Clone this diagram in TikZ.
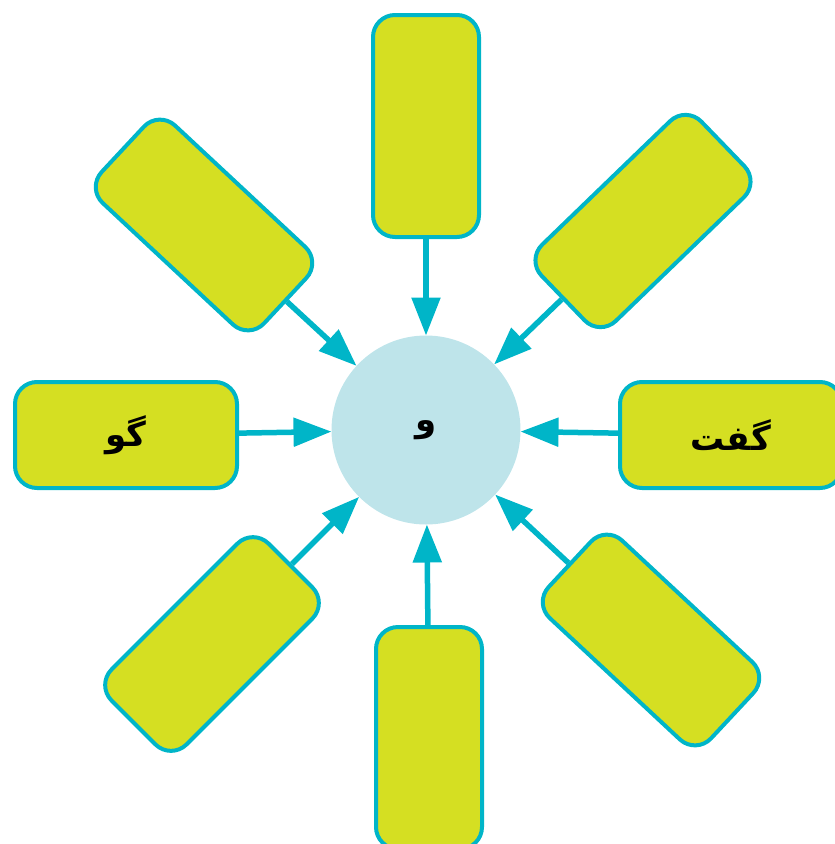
\documentclass[tikz,border=0pt]{standalone}
\usepackage{fontspec}
\newfontfamily\farsi[Script=Arabic]{DejaVu Sans}
\TeXXeTstate=1
\usetikzlibrary{arrows.meta}
\definecolor{boxfill}{HTML}{D5DF22}
\definecolor{boxline}{HTML}{00B5C8}
\definecolor{hubfill}{HTML}{BEE4EA}
\tikzset{
    word/.style={box, font=\farsi\bfseries\fontsize{34}{40}\selectfont},
    box/.style={draw=boxline, fill=boxfill, line width=4pt, rounded corners=22pt,
        minimum width=222pt, minimum height=106pt, inner sep=0pt},
    hub/.style={circle, fill=hubfill, minimum size=189pt, outer sep=0pt,
        font=\farsi\bfseries\fontsize{34}{40}\selectfont},
    arr/.style={draw=boxline, line width=5.5pt, -{Triangle[length=38pt, width=28pt]}}
}
\begin{document}
\begin{tikzpicture}
    \useasboundingbox (0pt,0pt) rectangle (835pt,-844pt);
    \clip (0pt,0pt) rectangle (835pt,-844pt);
    \node[hub] (c) at (426pt,-430pt) {\beginR و\endR};
    \node[box, rotate=90] (1) at ([shift={(0pt,304pt)}]c) {};
    \node[box, rotate=44] (2) at ([shift={(217pt,209pt)}]c) {};
    \node[word] (3) at ([shift={(305pt,-5pt)}]c) {\beginR گفت\endR};
    \node[box, rotate=-43] (4) at ([shift={(225pt,-210pt)}]c) {};
    \node[box, rotate=90] (5) at ([shift={(3pt,-308pt)}]c) {};
    \node[box, rotate=45] (6) at ([shift={(-214pt,-214pt)}]c) {};
    \node[word] (7) at ([shift={(-300pt,-5pt)}]c) {\beginR گو\endR};
    \node[box, rotate=-43] (8) at ([shift={(-222pt,205pt)}]c) {};

    \foreach \n in {1,...,8}
        \draw[arr] (\n) -- (c);
\end{tikzpicture}
\end{document}
